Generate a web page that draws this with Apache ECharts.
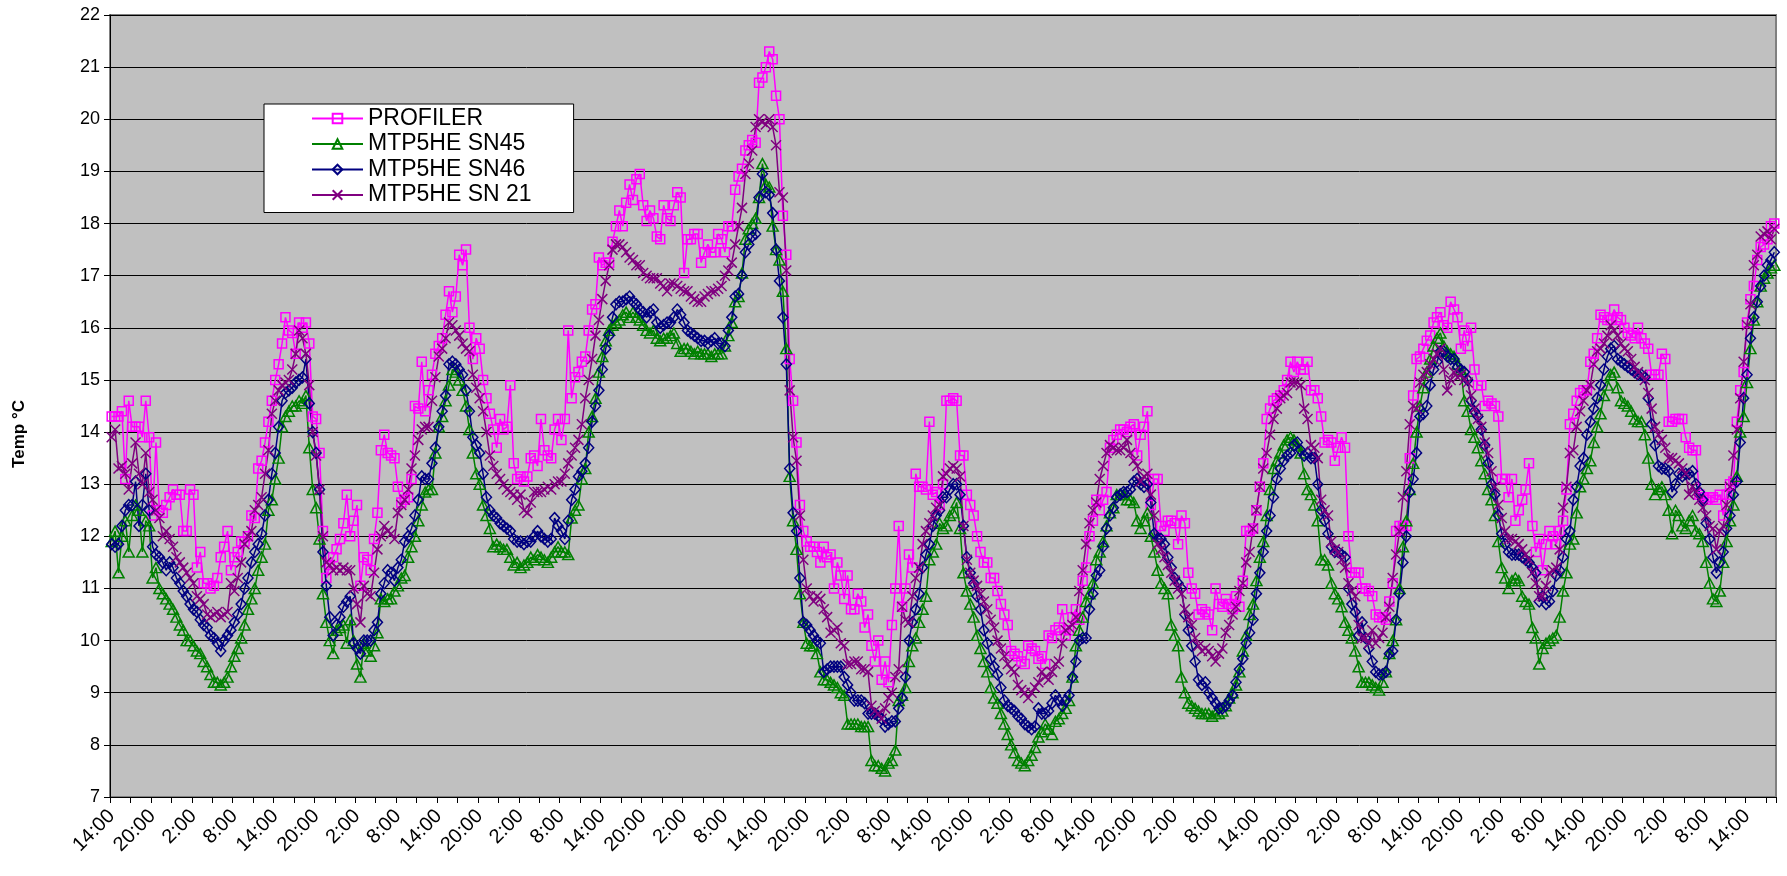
<!DOCTYPE html>
<html>
<head>
<meta charset="utf-8">
<title>Temperature comparison</title>
<script src="https://cdn.jsdelivr.net/npm/echarts/dist/echarts.min.js"></script>
<style>
  html, body { margin: 0; padding: 0; background: #fff; }
  #chart { width: 1787px; height: 876px; }
</style>
</head>
<body>
<div id="chart"></div>
<script>
// Half-hourly readings, starting at 14:00.
const START_HOUR = 14;
const STEP_MINUTES = 30;
const tickLabels = ['14:00', '20:00', '2:00', '8:00'];

const seriesNames = ['PROFILER', 'MTP5HE SN45', 'MTP5HE SN46', 'MTP5HE SN 21'];

const profiler = [
  14.3, 14.3, 14.3, 14.4, 13.1, 14.6, 14.1, 14.1, 14.1, 13.9, 14.6, 13.9,
  12.4, 13.8, 12.5, 12.45, 12.6, 12.75, 12.9, 12.8, 12.8, 12.1, 12.1, 12.9,
  12.8, 11.4, 11.7, 11.1, 11.1, 11.0, 11.05, 11.2, 11.6, 11.8, 12.1, 11.35,
  11.6, 11.7, 11.9, 11.9, 12.0, 12.4, 12.35, 13.3, 13.45, 13.8, 14.2, 14.6,
  15.0, 15.3, 15.7, 16.2, 15.95, 15.9, 15.5, 16.1, 16.0, 16.1, 15.7, 14.3,
  14.25, 13.6, 12.1, 11.2, 11.45, 11.6, 11.75, 11.95, 12.25, 12.8, 12.0, 12.3,
  12.6, 11.05, 11.6, 11.55, 11.35, 11.95, 12.45, 13.65, 13.95, 13.6, 13.55, 13.5,
  12.95, 12.65, 12.7, 12.75, 13.1, 14.5, 14.45, 15.35, 14.4, 14.8, 15.1, 15.5,
  15.65, 15.8, 16.25, 16.7, 16.3, 16.6, 17.4, 17.2, 17.5, 16.0, 15.4, 15.8,
  15.6, 15.0, 14.65, 14.35, 14.05, 13.7, 14.25, 14.05, 14.1, 14.9, 13.4, 13.1,
  13.15, 13.05, 13.15, 13.5, 13.55, 13.35, 14.25, 13.65, 13.55, 13.5, 14.05, 14.25,
  13.85, 14.25, 15.95, 14.65, 15.05, 15.15, 15.35, 15.45, 15.95, 16.35, 16.45, 17.35,
  17.2, 17.25, 17.25, 17.65, 17.95, 18.25, 17.95, 18.4, 18.75, 18.45, 18.85, 18.95,
  18.35, 18.05, 18.25, 18.1, 17.75, 17.7, 18.35, 18.1, 18.05, 18.35, 18.6, 18.5,
  17.05, 17.7, 17.7, 17.8, 17.8, 17.25, 17.45, 17.6, 17.45, 17.45, 17.8, 17.7,
  17.45, 17.95, 17.95, 18.65, 18.9, 19.05, 19.4, 19.5, 19.6, 19.55, 20.7, 20.8,
  21.0, 21.3, 21.15, 20.45, 20.0, 18.15, 17.4, 15.4, 14.6, 13.8, 12.6, 12.1,
  11.9, 11.8, 11.8, 11.7, 11.5, 11.8, 11.6, 11.65, 11.0, 11.5, 11.25, 10.8,
  11.25, 10.6, 10.6, 10.9, 10.75, 10.25, 10.5, 9.9, 9.6, 10.0, 9.25, 9.6,
  9.2, 10.3, 11.0, 12.2, 10.65, 11.0, 11.65, 11.4, 13.2, 12.95, 12.95, 12.9,
  14.2, 12.8, 12.85, 12.6, 13.0, 14.6, 14.6, 14.65, 14.6, 13.55, 13.55, 12.8,
  12.6, 12.4, 12.0, 11.7, 11.5, 11.5, 11.2, 11.2, 10.95, 10.7, 10.5, 10.3,
  9.8, 9.75, 9.7, 9.6, 9.55, 9.9, 9.85, 9.8, 9.65, 9.7, 9.55, 10.1,
  10.05, 10.2, 10.25, 10.6, 10.1, 10.2, 10.45, 10.6, 10.4, 11.15, 11.4, 12.0,
  12.3, 12.7, 12.5, 12.7, 12.85, 13.7, 13.85, 13.95, 14.05, 14.05, 14.0, 14.1,
  14.15, 13.55, 13.95, 14.1, 14.4, 12.6, 13.1, 13.1, 12.2, 12.1, 12.3, 12.3,
  12.25, 11.85, 12.4, 12.25, 11.3, 11.0, 10.9, 10.5, 10.6, 10.55, 10.5, 10.2,
  11.0, 10.7, 10.65, 10.8, 10.7, 10.6, 10.85, 10.65, 11.15, 12.1, 12.1, 12.15,
  12.5, 12.95, 13.4, 14.25, 14.45, 14.6, 14.65, 14.7, 14.8, 15.0, 15.35, 15.15,
  15.35, 15.2, 15.2, 15.35, 14.8, 14.8, 14.65, 14.3, 13.8, 13.85, 13.8, 13.45,
  13.7, 13.9, 13.7, 12.0, 11.3, 11.3, 11.3, 11.0, 11.0, 10.95, 10.85, 10.5,
  10.45, 10.45, 10.4, 10.75, 11.1, 12.1, 12.2, 12.2, 12.2, 13.5, 14.7, 15.4,
  15.45, 15.6, 15.75, 15.85, 16.1, 16.2, 16.3, 16.05, 16.0, 16.5, 16.35, 16.2,
  15.6, 15.95, 15.65, 16.0, 15.2, 14.9, 14.9, 14.5, 14.6, 14.55, 14.5, 14.3,
  13.1, 13.1, 12.75, 13.1, 12.3, 12.5, 12.7, 12.9, 13.4, 12.2, 11.7, 11.95,
  11.35, 11.85, 12.1, 12.0, 11.85, 12.1, 12.3, 12.9, 14.15, 14.35, 14.6, 14.75,
  14.8, 14.8, 15.35, 15.5, 15.8, 16.25, 16.2, 16.15, 16.15, 16.35, 16.2, 16.15,
  16.0, 15.9, 15.85, 15.8, 16.0, 15.8, 15.7, 15.6, 15.1, 15.1, 15.1, 15.5,
  15.4, 14.2, 14.2, 14.25, 14.25, 14.25, 13.9, 13.7, 13.65, 13.65, 12.8, 12.75,
  12.7, 12.75, 12.75, 12.7, 12.8, 12.4, 12.8, 13.0, 13.05, 14.2, 14.8, 15.15,
  16.1, 16.55, 16.8, 17.3, 17.55, 17.6, 17.7, 17.95, 18.0
];

const sn45 = [
  11.9, 12.1, 11.3, 12.0, 12.3, 11.7, 12.4, 12.6, 12.5, 11.7, 12.3, 12.2,
  11.2, 11.4, 11.0, 10.9, 10.8, 10.7, 10.6, 10.45, 10.3, 10.2, 10.0, 10.0,
  9.9, 9.8, 9.75, 9.6, 9.5, 9.35, 9.2, 9.2, 9.15, 9.2, 9.3, 9.5,
  9.7, 9.85, 10.05, 10.3, 10.6, 10.8, 11.0, 11.35, 11.6, 11.85, 12.5, 12.7,
  13.1, 13.5, 14.1, 14.3, 14.4, 14.5, 14.5, 14.6, 14.55, 14.7, 13.7, 12.9,
  12.55, 11.95, 10.9, 10.35, 10.0, 9.75, 10.2, 10.25, 10.3, 9.95, 10.4, 10.0,
  9.55, 9.3, 9.95, 9.8, 9.7, 9.9, 10.15, 10.8, 10.75, 10.8, 10.8, 10.95,
  11.05, 11.2, 11.25, 11.6, 11.8, 12.0, 12.3, 12.6, 12.85, 12.9, 12.9, 13.6,
  14.1, 14.3, 14.6, 14.9, 15.2, 15.15, 15.0, 14.8, 14.5, 14.05, 13.6, 13.2,
  13.0, 12.6, 12.4, 12.15, 11.8, 11.85, 11.8, 11.75, 11.75, 11.6, 11.45, 11.5,
  11.4, 11.45, 11.5, 11.6, 11.55, 11.65, 11.6, 11.55, 11.5, 11.6, 11.7, 11.8,
  11.7, 11.7, 11.65, 12.35, 12.5, 12.6, 13.1, 13.3, 14.0, 14.3, 14.65, 15.15,
  15.45, 15.75, 15.95, 16.05, 16.1, 16.15, 16.25, 16.3, 16.2, 16.3, 16.2, 16.15,
  16.05, 15.95, 15.9, 15.95, 15.8, 15.75, 15.8, 15.8, 15.85, 15.9, 15.7, 15.55,
  15.6, 15.6, 15.55, 15.5, 15.55, 15.5, 15.5, 15.5, 15.45, 15.5, 15.5, 15.5,
  15.65, 15.85, 16.1, 16.5, 16.6, 17.05, 17.7, 17.9, 18.0, 18.1, 18.5, 19.15,
  18.75, 18.7, 17.95, 17.5, 17.3, 16.7, 15.6, 13.15, 12.3, 11.75, 10.9, 10.35,
  9.95, 9.9, 9.9, 9.75, 9.4, 9.25, 9.25, 9.2, 9.15, 9.1, 9.0, 8.95,
  8.4, 8.4, 8.4, 8.4, 8.35, 8.35, 8.35, 7.7, 7.6, 7.6, 7.55, 7.5,
  7.65, 7.7, 7.9, 8.85, 8.95, 9.1, 9.6, 9.9, 10.05, 10.35, 10.6, 10.85,
  11.55, 11.7, 11.85, 12.25, 12.15, 12.2, 12.4, 12.45, 12.65, 12.15, 11.3, 10.95,
  10.7, 10.45, 10.1, 9.85, 9.6, 9.4, 9.1, 8.9, 8.8, 8.6, 8.4, 8.2,
  8.0, 7.85, 7.7, 7.65, 7.6, 7.7, 7.8, 7.95, 8.15, 8.25, 8.4, 8.3,
  8.2, 8.45, 8.5, 8.6, 8.7, 8.85, 9.3, 9.9, 10.2, 10.45, 10.75, 10.9,
  11.1, 11.55, 11.7, 11.9, 12.2, 12.45, 12.55, 12.8, 12.8, 12.8, 12.7, 12.7,
  12.65, 12.3, 12.15, 12.3, 12.45, 12.0, 11.7, 11.35, 11.1, 11.0, 10.9, 10.3,
  10.1, 9.9, 9.3, 9.0, 8.8, 8.75, 8.7, 8.65, 8.6, 8.6, 8.6, 8.55,
  8.6, 8.6, 8.65, 8.75, 8.9, 9.0, 9.15, 9.4, 9.8, 10.1, 10.5, 10.7,
  11.15, 11.6, 11.9, 12.4, 12.9, 13.3, 13.45, 13.6, 13.75, 13.85, 13.9, 13.85,
  13.75, 13.6, 13.2, 12.9, 12.8, 12.6, 12.3, 11.55, 11.55, 11.45, 11.1, 10.9,
  10.8, 10.65, 10.35, 10.2, 10.05, 9.8, 9.5, 9.2, 9.2, 9.2, 9.15, 9.1,
  9.05, 9.2, 9.4, 9.75, 10.0, 10.4, 11.0, 11.8, 12.3, 12.9, 13.4, 14.0,
  14.5, 14.85, 15.15, 15.4, 15.65, 15.8, 15.9, 15.65, 15.55, 15.5, 15.45, 15.3,
  15.2, 14.6, 14.4, 14.05, 13.9, 13.7, 13.45, 13.2, 12.9, 12.7, 12.4, 11.9,
  11.4, 11.2, 11.0, 11.15, 11.2, 11.15, 10.85, 10.75, 10.7, 10.25, 10.05, 9.55,
  9.85, 9.95, 10.0, 10.05, 10.1, 10.45, 10.95, 11.3, 11.85, 11.95, 12.45, 12.95,
  13.1, 13.3, 13.45, 13.8, 14.1, 14.35, 14.7, 14.9, 15.1, 15.15, 14.85, 14.6,
  14.55, 14.5, 14.4, 14.25, 14.2, 14.2, 13.95, 13.5, 13.0, 12.8, 12.9, 12.95,
  12.8, 12.5, 12.05, 12.5, 12.4, 12.2, 12.15, 12.3, 12.4, 12.1, 12.05, 11.9,
  11.5, 11.1, 10.8, 10.75, 10.95, 11.5, 11.9, 12.3, 12.6, 13.15, 14.0, 14.3,
  14.95, 15.6, 16.15, 16.5, 16.8, 16.95, 17.05, 17.15, 17.2
];

const sn46 = [
  11.85, 11.8, 11.85, 12.2, 12.5, 12.6, 12.6, 13.05, 12.2, 12.6, 13.2, 12.5,
  11.8, 11.65, 11.6, 11.5, 11.35, 11.5, 11.4, 11.2, 11.1, 10.95, 10.85, 10.7,
  10.6, 10.55, 10.4, 10.3, 10.25, 10.1, 10.05, 9.95, 9.8, 10.0, 10.1, 10.2,
  10.35, 10.5, 10.7, 11.0, 11.2, 11.5, 11.7, 11.85, 12.05, 12.4, 12.7, 13.2,
  13.6, 14.1, 14.6, 14.75, 14.8, 14.85, 14.95, 15.0, 15.05, 15.4, 14.55, 14.0,
  13.6, 12.9, 11.7, 11.05, 10.45, 10.1, 10.3, 10.45, 10.65, 10.75, 10.85, 9.95,
  9.85, 9.75, 10.0, 10.0, 10.0, 10.2, 10.35, 10.9, 11.1, 11.35, 11.3, 11.15,
  11.4, 11.55, 11.9, 12.0, 12.15, 12.4, 12.7, 13.15, 13.1, 13.1, 13.4, 13.7,
  14.1, 14.4, 14.7, 15.3, 15.35, 15.3, 15.2, 15.1, 14.8, 14.4, 13.9, 13.75,
  13.6, 13.2, 12.75, 12.5, 12.4, 12.35, 12.25, 12.2, 12.15, 12.1, 11.95, 11.9,
  11.9, 11.85, 11.9, 11.9, 12.0, 12.1, 12.0, 11.95, 11.9, 11.95, 12.35, 12.2,
  12.1, 11.95, 12.3, 12.7, 12.9, 13.15, 13.25, 13.4, 13.7, 14.2, 14.5, 14.8,
  15.2, 15.6, 15.85, 16.2, 16.45, 16.5, 16.5, 16.55, 16.6, 16.5, 16.45, 16.35,
  16.3, 16.2, 16.3, 16.35, 16.1, 16.0, 16.05, 16.1, 16.1, 16.2, 16.35, 16.25,
  16.1, 15.95, 15.9, 15.85, 15.8, 15.75, 15.75, 15.7, 15.75, 15.8, 15.7, 15.7,
  15.65, 15.95, 16.2, 16.6, 16.65, 17.0, 17.45, 17.6, 17.75, 17.8, 18.5, 18.95,
  18.6, 18.55, 18.2, 17.5, 16.9, 16.2, 15.3, 13.3, 12.45, 12.1, 11.2, 10.35,
  10.3, 10.2, 10.1, 10.0, 9.95, 9.4, 9.45, 9.5, 9.5, 9.5, 9.5, 9.3,
  9.15, 9.0, 8.85, 8.85, 8.85, 8.8, 8.6, 8.6, 8.6, 8.55, 8.5, 8.35,
  8.4, 8.45, 8.45, 8.7, 8.9, 9.3, 10.0, 10.35, 10.6, 10.9, 11.4, 11.65,
  11.85, 12.2, 12.4, 12.5, 12.75, 12.75, 12.9, 13.0, 13.0, 12.8, 12.2, 11.6,
  11.3, 11.1, 10.85, 10.6, 10.2, 9.95, 9.65, 9.5, 9.35, 9.1, 8.85, 8.75,
  8.7, 8.65, 8.55, 8.5, 8.4, 8.35, 8.3, 8.35, 8.7, 8.6, 8.6, 8.65,
  8.8, 8.95, 8.85, 8.75, 8.85, 8.95, 9.3, 9.6, 10.0, 10.05, 10.05, 10.6,
  10.9, 11.25, 11.35, 11.8, 12.15, 12.4, 12.55, 12.75, 12.8, 12.85, 12.85, 12.9,
  13.05, 13.1, 13.0, 12.95, 13.0, 12.65, 12.05, 11.95, 11.95, 11.85, 11.6, 11.4,
  11.2, 11.1, 11.0, 10.5, 10.2, 9.9, 9.6, 9.25, 9.15, 9.2, 9.0, 8.9,
  8.8, 8.7, 8.7, 8.75, 8.85, 8.95, 9.2, 9.45, 9.65, 9.95, 10.15, 10.4,
  10.9, 11.3, 11.7, 12.1, 12.4, 12.75, 13.1, 13.3, 13.45, 13.55, 13.6, 13.75,
  13.8, 13.65, 13.55, 13.6, 13.5, 13.5, 13.0, 12.5, 12.3, 12.05, 11.8, 11.7,
  11.7, 11.65, 11.6, 11.0, 10.7, 10.55, 10.1, 10.35, 10.05, 9.85, 9.6, 9.4,
  9.35, 9.35, 9.4, 9.75, 9.8, 10.4, 10.9, 11.5, 12.0, 12.85, 13.1, 13.6,
  14.3, 14.35, 14.5, 14.9, 15.2, 15.35, 15.55, 15.55, 15.45, 15.4, 15.4, 15.25,
  15.2, 15.15, 15.0, 14.6, 14.4, 14.3, 14.05, 13.75, 13.4, 13.0, 12.8, 12.4,
  12.05, 11.85, 11.7, 11.65, 11.65, 11.65, 11.6, 11.55, 11.5, 11.4, 11.3, 10.75,
  10.85, 10.7, 10.75, 10.95, 11.25, 11.35, 11.6, 11.95, 12.1, 12.7, 12.95, 13.35,
  13.5, 13.95, 14.2, 14.45, 14.65, 14.9, 15.2, 15.45, 15.6, 15.65, 15.4, 15.35,
  15.3, 15.25, 15.2, 15.15, 15.1, 15.1, 15.05, 14.65, 14.15, 13.75, 13.35, 13.3,
  13.3, 13.25, 12.85, 13.0, 13.2, 13.15, 13.2, 13.2, 13.25, 13.0, 12.85, 12.7,
  12.25, 11.95, 11.6, 11.3, 11.5, 11.7, 12.15, 12.4, 12.8, 13.05, 13.8, 14.65,
  15.1, 15.8, 16.2, 16.5, 16.8, 17.0, 17.2, 17.3, 17.45
];

const sn21 = [
  13.9, 14.05, 13.3, 13.35, 13.2, 12.9, 13.4, 13.8, 13.2, 13.0, 13.6, 12.85,
  12.7, 12.5, 12.35, 12.0, 12.1, 11.95, 11.8, 11.6, 11.5, 11.4, 11.3, 11.2,
  11.1, 10.85, 10.8, 10.7, 10.5, 10.45, 10.5, 10.55, 10.45, 10.5, 10.55, 11.1,
  10.95, 11.2, 11.5, 11.85, 12.0, 12.1, 12.5, 12.6, 12.75, 13.2, 13.65, 14.35,
  14.6, 14.8, 14.9, 14.95, 15.0, 15.2, 15.5, 15.95, 15.8, 15.5, 14.9, 14.0,
  13.55, 12.9, 12.0, 11.5, 11.45, 11.35, 11.4, 11.35, 11.4, 11.35, 11.35, 11.0,
  10.7, 10.35, 11.05, 10.9, 10.85, 11.3, 11.75, 12.0, 12.2, 12.1, 12.05, 11.95,
  12.45, 12.6, 12.7, 12.9, 13.3, 13.55, 13.85, 14.05, 14.1, 14.1, 14.6, 15.05,
  15.45, 15.6, 15.8, 16.1, 16.05, 15.95, 15.85, 15.7, 15.6, 15.55, 15.1, 14.85,
  14.65, 14.4, 14.0, 13.55, 13.35, 13.2, 13.1, 13.0, 12.9, 12.85, 12.8, 12.7,
  12.8, 12.5, 12.45, 12.65, 12.85, 12.85, 12.85, 12.9, 12.95, 12.9, 13.0, 13.05,
  13.05, 13.2, 13.4, 13.55, 13.7, 13.85, 14.15, 14.65, 15.0, 15.4, 15.85, 16.15,
  16.55, 16.9, 17.2, 17.5, 17.6, 17.6, 17.55, 17.45, 17.35, 17.3, 17.2, 17.2,
  17.05, 17.0, 16.95, 16.95, 16.95, 16.85, 16.8, 16.7, 16.85, 16.85, 16.8, 16.75,
  16.7, 16.7, 16.6, 16.55, 16.5, 16.5, 16.6, 16.65, 16.7, 16.7, 16.75, 16.8,
  17.0, 17.1, 17.25, 17.6, 17.95, 18.3, 18.95, 19.15, 19.4, 19.85, 20.0, 19.95,
  19.9, 20.0, 19.85, 19.5, 18.6, 18.5, 17.1, 14.8, 13.9, 13.45, 12.4, 11.55,
  11.0, 10.85, 10.75, 10.85, 10.8, 10.6, 10.45, 10.15, 10.2, 10.25, 9.95, 9.9,
  9.55, 9.55, 9.6, 9.6, 9.45, 9.45, 9.4, 8.75, 8.65, 8.6, 8.5, 8.7,
  8.9, 9.0, 9.3, 9.45, 10.65, 10.4, 10.35, 10.85, 11.2, 11.4, 11.85, 12.1,
  12.25, 12.4, 12.55, 12.6, 13.15, 13.2, 13.3, 13.35, 13.3, 13.15, 12.2, 11.55,
  11.3, 11.15, 11.05, 10.9, 10.75, 10.6, 10.4, 10.25, 10.0, 9.85, 9.7, 9.55,
  9.45, 9.4, 9.15, 9.05, 9.0, 8.9, 9.0, 9.1, 9.2, 9.4, 9.3, 9.25,
  9.4, 9.55, 9.6, 9.95, 10.2, 10.25, 10.3, 10.45, 10.95, 11.35, 11.85, 12.25,
  12.5, 12.65, 13.1, 13.35, 13.6, 13.75, 13.7, 13.65, 13.65, 13.7, 13.85, 13.6,
  13.45, 13.35, 13.05, 13.15, 13.2, 12.8, 12.4, 11.85, 11.75, 11.6, 11.45, 11.3,
  11.15, 11.0, 10.9, 10.6, 10.45, 10.3, 10.05, 9.9, 9.8, 9.85, 9.8, 9.7,
  9.6, 9.75, 9.85, 10.15, 10.3, 10.5, 10.65, 10.95, 11.1, 11.5, 11.7, 12.15,
  12.5, 12.95, 13.3, 13.6, 13.95, 14.25, 14.45, 14.65, 14.7, 14.75, 14.95, 14.95,
  14.95, 14.9, 14.45, 14.25, 13.75, 13.7, 13.5, 12.7, 12.5, 12.4, 11.9, 11.75,
  11.7, 11.55, 11.4, 11.1, 10.95, 10.85, 10.3, 10.05, 10.05, 9.95, 10.2, 9.95,
  10.05, 10.15, 10.45, 10.65, 11.2, 11.65, 12.1, 12.75, 13.25, 14.15, 14.5, 14.45,
  14.95, 15.1, 15.15, 15.3, 15.4, 15.5, 15.6, 15.2, 14.8, 15.0, 15.15, 15.05,
  15.1, 15.0, 14.95, 14.7, 14.45, 14.25, 14.1, 13.8, 13.6, 13.25, 12.95, 12.6,
  12.35, 12.1, 11.95, 11.95, 11.9, 11.85, 11.75, 11.65, 11.55, 11.3, 11.1, 10.85,
  10.85, 11.05, 11.3, 11.35, 11.4, 11.75, 12.55, 12.95, 13.6, 13.65, 14.1, 14.4,
  14.6, 14.8, 14.9, 15.3, 15.55, 15.6, 15.7, 15.85, 16.05, 15.95, 15.85, 15.7,
  15.6, 15.55, 15.4, 15.25, 15.15, 15.1, 15.0, 14.75, 14.45, 14.1, 13.95, 13.85,
  13.7, 13.5, 13.5, 13.45, 13.4, 13.3, 13.2, 12.8, 12.95, 12.85, 12.7, 12.55,
  12.4, 12.2, 12.15, 11.75, 12.1, 12.2, 12.6, 12.95, 13.55, 14.05, 14.65, 15.35,
  16.05, 16.45, 17.2, 17.4, 17.75, 17.8, 17.85, 17.7, 17.9
];

// Time-of-day category labels, one per half hour.
const categories = [];
for (let k = 0; k < profiler.length; k++) {
  const minutes = START_HOUR * 60 + k * STEP_MINUTES;
  const h = Math.floor(minutes / 60) % 24;
  const m = minutes % 60;
  categories.push(h + ':' + (m < 10 ? '0' + m : m));
}

const FONT = 'Liberation Sans, Arial, sans-serif';
const colors = ['#FF00FF', '#008000', '#000080', '#800080'];
const symbols = ['rect', 'triangle', 'diamond', 'path://M0,0L10,10M0,10L10,0'];
const symbolSizes = [9, [11, 10], [10, 11], 10];
const values = [profiler, sn45, sn46, sn21];

const series = seriesNames.map((name, k) => ({
  name: name,
  type: 'line',
  data: values[k],
  symbol: symbols[k],
  symbolSize: symbolSizes[k],
  showAllSymbol: true,
  silent: true,
  animation: false,
  lineStyle: { color: colors[k], width: 1.5 },
  itemStyle: { color: 'rgba(0,0,0,0)', borderColor: colors[k], borderWidth: 1.5 },
  emphasis: { disabled: true }
}));

const chart = echarts.init(document.getElementById('chart'), null, { renderer: 'canvas' });
chart.setOption({
  backgroundColor: '#ffffff',
  animation: false,
  textStyle: { fontFamily: FONT },
  grid: {
    left: 110, right: 11, top: 15, bottom: 79,
    show: true,
    backgroundColor: '#C0C0C0',
    borderColor: '#808080',
    borderWidth: 2
  },
  legend: {
    data: seriesNames,
    orient: 'vertical',
    left: 264,
    top: 104,
    backgroundColor: '#ffffff',
    borderColor: '#000000',
    borderWidth: 1,
    borderRadius: 0,
    padding: [3, 42, 6, 47],
    itemWidth: 51,
    itemHeight: 12,
    itemGap: 2.5,
    selectedMode: false,
    textStyle: { fontFamily: FONT, fontSize: 23, color: '#000', lineHeight: 22 }
  },
  xAxis: {
    type: 'category',
    data: categories,
    boundaryGap: true,
    axisLine: { lineStyle: { color: '#000', width: 1 } },
    axisTick: { show: true, interval: 5, length: 6, lineStyle: { color: '#000' } },
    axisLabel: {
      interval: 11,
      rotate: 45,
      margin: 16,
      fontFamily: FONT,
      fontSize: 20,
      color: '#000',
      formatter: (v) => (tickLabels.indexOf(v) >= 0 ? v : '')
    },
    splitLine: { show: false }
  },
  yAxis: {
    type: 'value',
    min: 7,
    max: 22,
    interval: 1,
    axisLine: { show: true, lineStyle: { color: '#000', width: 1 } },
    axisTick: { show: true, length: 6, lineStyle: { color: '#000' } },
    axisLabel: { fontFamily: FONT, fontSize: 18, color: '#000', margin: 10 },
    splitLine: { show: true, lineStyle: { color: '#000', width: 1 } }
  },
  graphic: [{
    type: 'text',
    left: 11,
    top: 400,
    rotation: Math.PI / 2,
    style: { text: 'Temp °C', font: 'bold 17px ' + FONT, fill: '#000' }
  }],
  series: series
});
</script>
</body>
</html>
